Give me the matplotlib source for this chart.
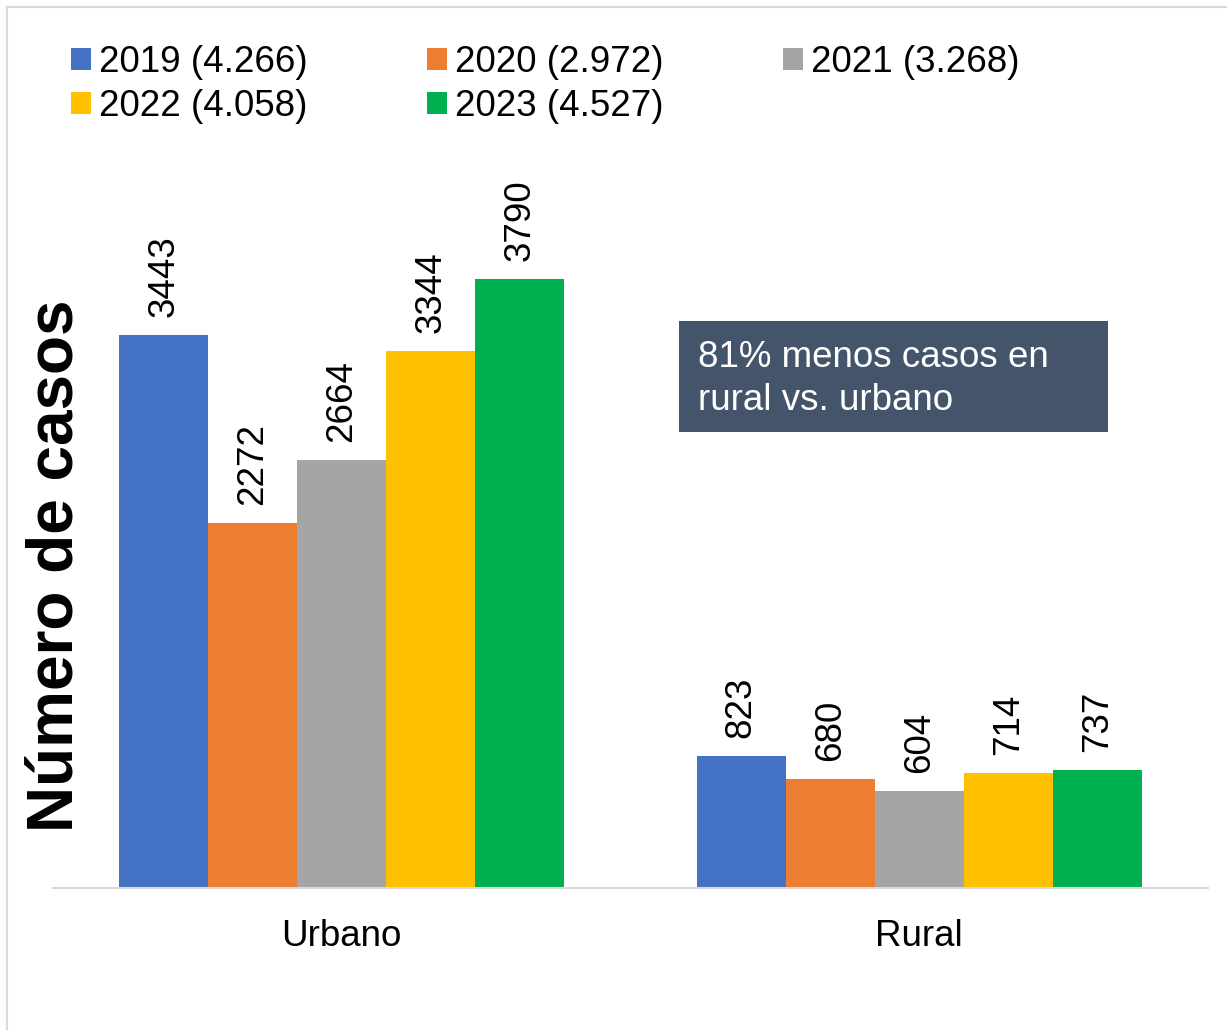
import matplotlib
matplotlib.use("Agg")
import matplotlib.pyplot as plt
from matplotlib.patches import Patch, Rectangle
from matplotlib.lines import Line2D
import numpy as np

plt.rcParams['font.family'] = ['Liberation Sans', 'DejaVu Sans']

categories = ["Urbano", "Rural"]
series_names = ["2019 (4.266)", "2020 (2.972)", "2021 (3.268)", "2022 (4.058)", "2023 (4.527)"]
values = {
    "2019 (4.266)": [3443, 823],
    "2020 (2.972)": [2272, 680],
    "2021 (3.268)": [2664, 604],
    "2022 (4.058)": [3344, 714],
    "2023 (4.527)": [3790, 737],
}
colors = ["#4472C4", "#ED7D31", "#A5A5A5", "#FFC000", "#00B050"]
ylabel = "Número de casos"
note = "81% menos casos en\nrural vs. urbano"

FS = 26.5
W, H = 1227, 1030
fig = plt.figure(figsize=(W / 100, H / 100), dpi=100)

# axes: x from 53 to 1208 px, baseline at 888 px
ax_left = 53 / W
ax_w = 1155 / W
ax_bottom = (H - 888) / H
ymax = 4500
ax_h = (ymax * 0.1606) / H
ax = fig.add_axes([ax_left, ax_bottom, ax_w, ax_h])

x = np.arange(len(categories))
bw = 89 / 577.5
n = len(series_names)
for i, (name, col) in enumerate(zip(series_names, colors)):
    offs = (i - (n - 1) / 2) * bw
    bars = ax.bar(x + offs, values[name], width=bw, color=col, label=name, zorder=2)
    for b, v in zip(bars, values[name]):
        ax.annotate(str(v), (b.get_x() + b.get_width() / 2, v), xytext=(0, 13),
                    textcoords="offset points", rotation=90, ha="center", va="bottom",
                    fontsize=FS, color="black")

ax.set_xlim(-0.5, 1.5)
ax.set_ylim(0, ymax)
ax.set_xticks(x)
ax.set_xticklabels(categories, fontsize=FS, color="black")
ax.tick_params(axis="x", length=0, pad=22)
ax.set_yticks([])
for s in ["top", "right", "left"]:
    ax.spines[s].set_visible(False)
ax.spines["bottom"].set_color("#D9D9D9")
ax.spines["bottom"].set_linewidth(1.5)
ax.patch.set_alpha(0)

# y label
fig.text(56 / W, 1 - 566 / H, ylabel, rotation=90, ha="center", va="center",
         fontsize=46, fontweight="bold", color="black")

# legend (row-wise order: reorder for column-major filling)
order = [0, 3, 1, 4, 2]
handles = [Patch(facecolor=colors[k], edgecolor="none") for k in order]
labels = [series_names[k] for k in order]
leg = fig.legend(handles, labels, ncol=3, loc="upper left",
                 bbox_to_anchor=(71 / W, 1 - 45 / H), frameon=False, fontsize=FS,
                 handlelength=0.55, handleheight=0.55, handletextpad=0.22,
                 columnspacing=3.23, labelspacing=0.25, borderpad=0, borderaxespad=0)

# note box
fig.patches.append(Rectangle((679 / W, 1 - 432 / H), (1108 - 679) / W, (432 - 321) / H,
                             transform=fig.transFigure, facecolor="#44546A",
                             edgecolor="none", zorder=3))
fig.text(698 / W, 1 - 379 / H, note, ha="left", va="center", fontsize=FS,
         color="white", linespacing=1.32, zorder=4)

# outer border (top and left visible)
fig.add_artist(Line2D([7 / W, 1.0], [1 - 7 / H, 1 - 7 / H], transform=fig.transFigure,
                      color="#D9D9D9", lw=1.5))
fig.add_artist(Line2D([7 / W, 7 / W], [0, 1 - 7 / H], transform=fig.transFigure,
                      color="#D9D9D9", lw=1.5))

fig.savefig("out.png", dpi=100, facecolor="white")
